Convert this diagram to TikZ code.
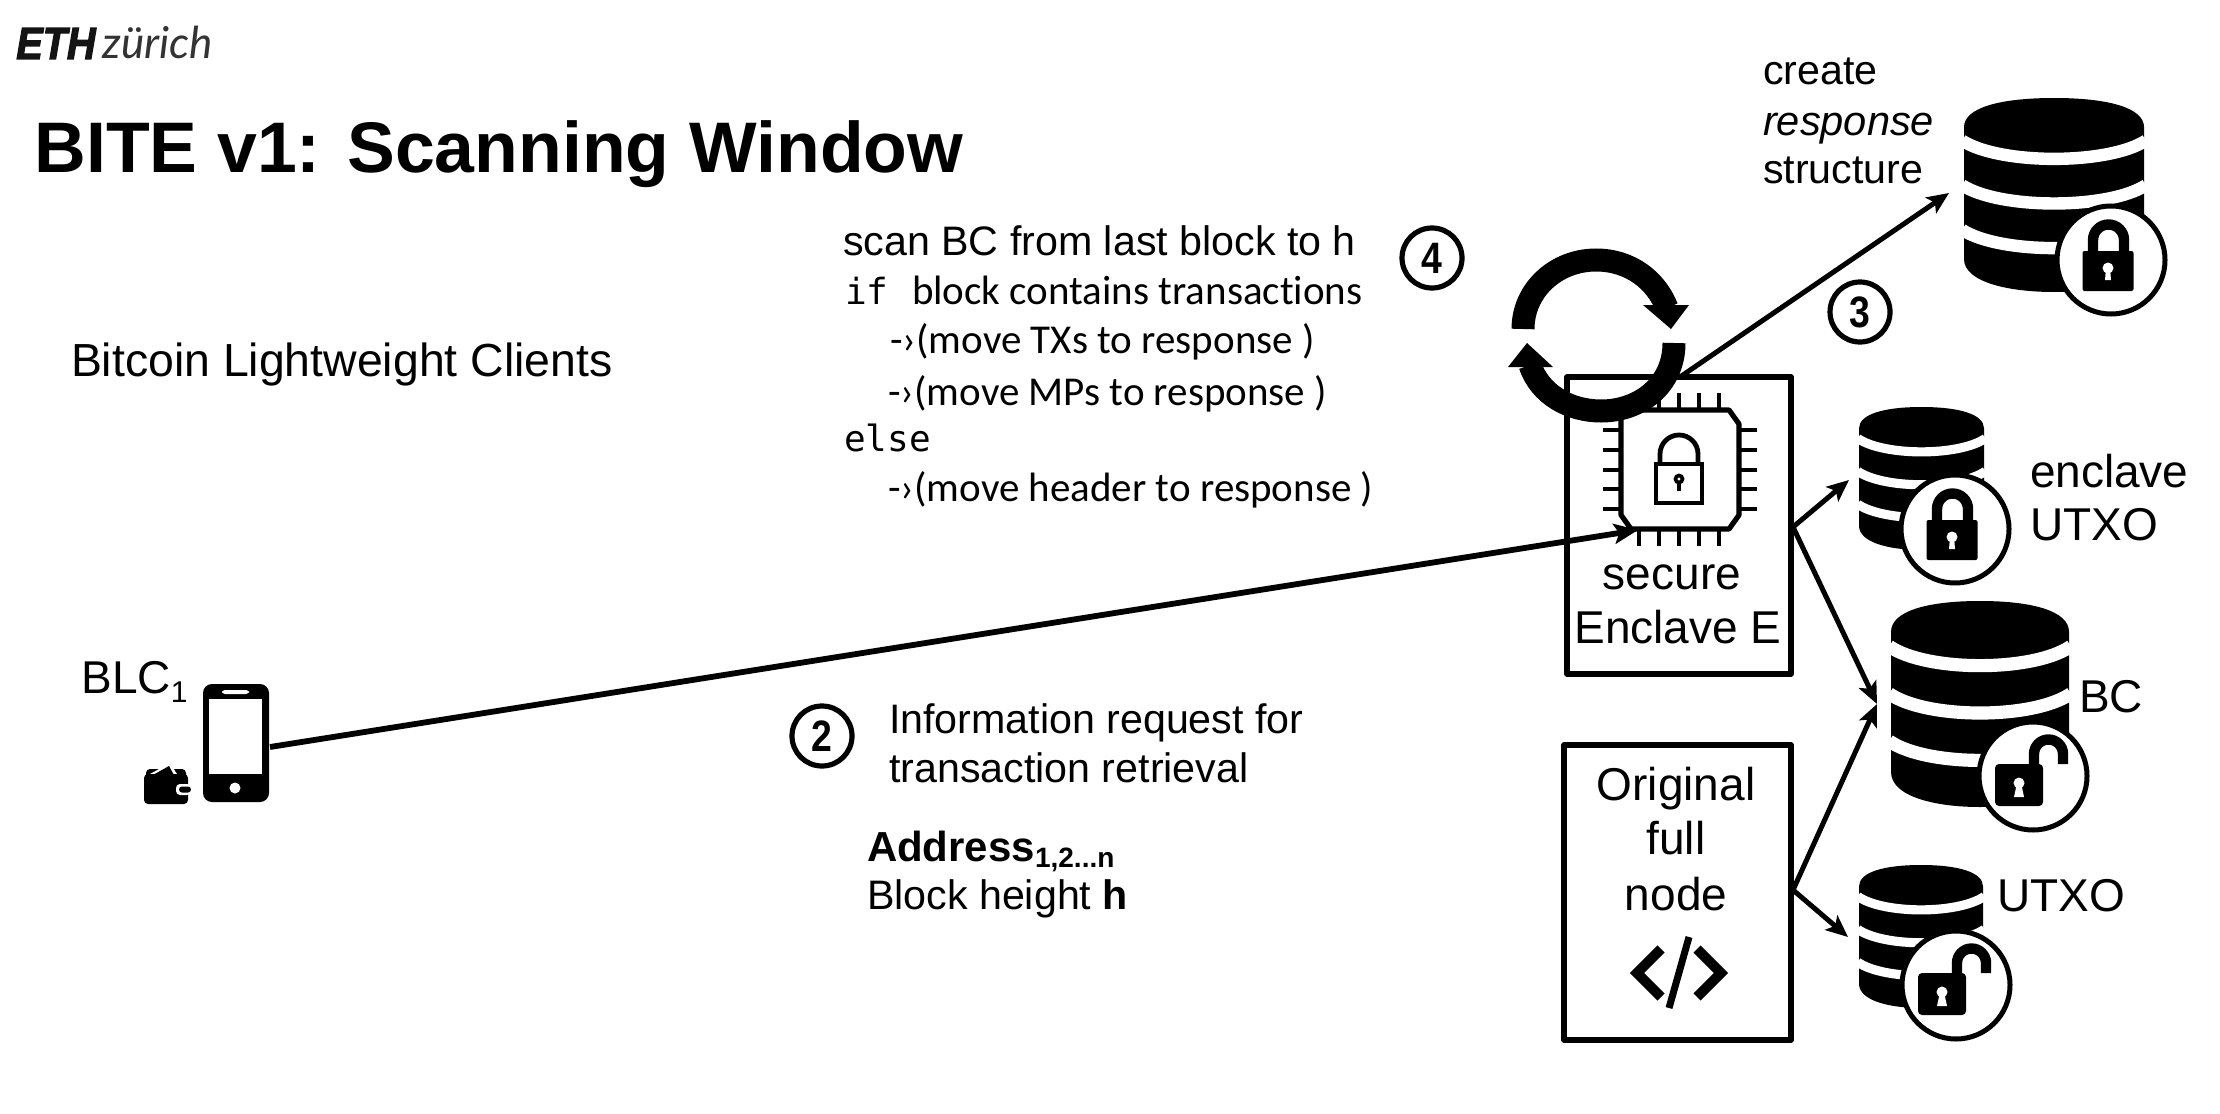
\documentclass[tikz,border=0pt]{standalone}
\usepackage{fontspec}
\setmainfont{Liberation Sans}
\newfontfamily\calib[Ligatures=NoCommon]{Carlito}
\newfontfamily\monof{DejaVu Sans Mono}
\newfontfamily\logof{Lato}
\usetikzlibrary{arrows.meta,calc}
\newcommand{\sz}[1]{\fontsize{#1pt}{#1pt}\selectfont}
\newcommand{\numtxt}[1]{\scalebox{.85}[1]{\bfseries\sz{22}#1}}
\tikzset{
  tw/.style={anchor=base west,inner sep=0pt,outer sep=0pt,font=\sz{20.6}},
  tl/.style={anchor=base west,inner sep=0pt,outer sep=0pt,font=\sz{23}},
  tc/.style={anchor=base,inner sep=0pt,outer sep=0pt,font=\sz{23}},
  num/.style={circle,draw=black,line width=2.6pt,minimum size=30pt,inner sep=0pt,fill=white},
  boxn/.style={draw=black,line width=2.7pt,rectangle,inner sep=0pt,line join=round},
  conn/.style={line width=2.5pt,-{Stealth[length=11pt,width=9.5pt,inset=2.5pt]}},
  longconn/.style={line width=2.9pt,-{Stealth[length=12pt,width=10pt,inset=2.5pt]}},
  badge/.style={fill=white,draw=black,line width=2.5pt},
  pin/.style={line width=2.1pt},
}
% database icon: left, top, width, height (px)
\newcommand{\dbicon}[4]{%
 \begin{scope}[shift={(#1,#2)},xscale=#3,yscale=#4]
  \fill[black] (0,.15) .. controls (0,.05) and (.2,0) .. (.5,0) .. controls (.8,0) and (1,.05) .. (1,.15)
     -- (1,.83) .. controls (1,.95) and (.75,1) .. (.5,1) .. controls (.25,1) and (0,.95) .. (0,.83) -- cycle;
  \pgfmathsetlengthmacro{\bandw}{#4*0.032pt}
  \foreach \yb in {.22,.45,.68}{
   \draw[white,line width=\bandw] (-.01,\yb) .. controls (.2,\yb+.125) and (.8,\yb+.125) .. (1.01,\yb);
  }
 \end{scope}}
% badge with closed lock
\newcommand{\lockclosed}[2]{%
 \begin{scope}[shift={(#1,#2)}]
  \filldraw[badge] (0,0) circle (54);
  \draw[line width=5.2pt] (-18,-8) -- (-18,-20) arc[start angle=180,end angle=360,radius=15.5] -- (13,-8);
  \fill[rounded corners=1pt] (-28.5,-9) rectangle (22.5,31);
  \fill[white] (-3,8) circle (5.5);
  \fill[white] (-5,8) -- (-1,8) -- (0,20) -- (-6,20) -- cycle;
 \end{scope}}
% badge with open lock
\newcommand{\lockopen}[2]{%
 \begin{scope}[shift={(#1,#2)}]
  \filldraw[badge] (0,0) circle (54);
  \draw[line width=5.2pt] (1,-8) -- (1,-22) arc[start angle=180,end angle=360,radius=14.5] -- (30,-12);
  \fill[rounded corners=2pt] (-38,-12) rectangle (10,30);
  \fill[white] (-14,7) circle (5.5);
  \fill[white] (-16,7) -- (-12,7) -- (-9,21) -- (-19,21) -- cycle;
 \end{scope}}
\begin{document}
\begin{tikzpicture}[x=.5pt,y=-.5pt]
\useasboundingbox (0,0) rectangle (2220,1113);
\fill[white] (0,0) rectangle (2220,1113);

% logo
\node[anchor=base west,inner sep=0pt,xscale=.88,text=black!92] (ethmark) at (16,59) {\fontsize{22.5pt}{22.5pt}\fontspec{Liberation Sans}[FakeBold=3]\bfseries\itshape ETH};
\node[anchor=base west,inner sep=0pt,text=black!80] (ethname) at (102,59) {\logof\itshape\sz{22}zürich};

% title
\node[anchor=base west,inner sep=0pt] (title) at (34,172) {\bfseries\sz{35.8}BITE v1: Scanning Window};
\node[tl,font=\sz{23.2}] (blc) at (71,376) {Bitcoin Lightweight Clients};

% scan text
\node[tw] (s1) at (843,255) {scan BC from last block to h};
\node[tw,font=\monof\sz{18}] (s2a) at (845,304) {if};
\node[tw,font=\calib\sz{20.5}] (s2b) at (912,304) {block contains transactions};
\node[tw,font=\calib\sz{20.5}] (s3) at (890,353) {-›(move TXs to response )};
\node[tw,font=\calib\sz{20.5}] (s4) at (888,405) {-›(move MPs to response )};
\node[tw,font=\monof\sz{18}] (s5) at (844,451) {else};
\node[tw,font=\calib\sz{20.5}] (s6) at (888,501) {-›(move header to response )};

% response label
\node[tw] (c1) at (1763,85) {create};
\node[tw,font=\itshape\sz{20.8}] (c2) at (1763,135) {response};
\node[tw] (c3) at (1763,184) {structure};

% databases
\dbicon{1964}{98}{180}{194}
\lockclosed{2111}{260}
\dbicon{1859}{407}{125}{143}
\lockclosed{1955}{529}
\dbicon{1891}{601}{178}{206}
\lockopen{2033}{776}
\dbicon{1859}{865}{124}{143}
\lockopen{1956}{985}

\node[tl] (l1) at (2030,487) {enclave};
\node[tl] (l2) at (2030,540) {UTXO};
\node[tl] (l3) at (2079,712) {BC};
\node[tl] (l4) at (1997,911) {UTXO};

% boxes
\node[boxn,minimum width=112pt,minimum height=148.5pt] (enclave) at (1679,525.5) {};
\node[boxn,minimum width=113.5pt,minimum height=147.5pt] (fullnode) at (1677.5,892.5) {};
\node[tc] (e1) at (1672,589) {secure};
\node[tc] (e2) at (1678,643) {Enclave E};
\node[tc] (f1) at (1676,800) {Original};
\node[tc] (f2) at (1676,854) {full};
\node[tc] (f3) at (1676,910) {node};

% code icon
\draw[line width=5pt,miter limit=10] (1661,949) -- (1637,973) -- (1661,997);
\draw[line width=5pt,miter limit=10] (1697,949) -- (1721,973) -- (1697,997);
\draw[line width=3.5pt] (1689,937) -- (1669,1008);

% chip
\foreach \xp in {1639,1659,1679,1699,1719}{
  \draw[pin] (\xp,393) -- (\xp,410);
  \draw[pin] (\xp,529) -- (\xp,546);
}
\foreach \yp in {430,450,470,489,509}{
  \draw[pin] (1603,\yp) -- (1621,\yp);
  \draw[pin] (1739,\yp) -- (1757,\yp);
}
\draw[fill=white,line width=2.6pt,line join=round] (1621,410) -- (1729,410) -- (1739,424) -- (1739,515) -- (1729,529) -- (1631,529) -- (1621,515) -- cycle;
\draw[line width=2.4pt] (1660,464) -- (1660,454) arc[start angle=180,end angle=360,radius=19] -- (1698,464);
\draw[line width=2.4pt] (1656,464) rectangle (1702,503);
\fill (1679,479) circle (5.5);
\draw[line width=1.8pt] (1679,479) -- (1679,491);
\fill[white] (1679,479) circle (1.6);

% connectors
\coordinate (enout) at (1793,527);
\coordinate (fnout) at (1793,890);
\coordinate (enchip) at (1638,530);
\coordinate (resp) at (1949,193);
\coordinate (etop) at (1680,377);
\coordinate (dbE) at (1849,480);
\coordinate (dbB) at (1877,704);
\coordinate (dbU) at (1848,937);
\coordinate (phoneout) at (270,747);
\draw[longconn] (phoneout) -- (enchip);
\draw[conn] (etop) -- (resp);
\draw[conn] (enout) -- (dbE);
\draw[conn] (enout) -- (dbB);
\draw[conn] (fnout) -- (dbB);
\draw[conn] (fnout) -- (dbU);

% cycle arrows
\draw[line width=11.5pt] (1523,329) .. controls (1523,290) and (1556,260) .. (1596,260) .. controls (1630,260) and (1656,280) .. (1667,308);
\fill (1643,305) -- (1689,305) -- (1671,329) -- cycle;
\draw[line width=11.5pt] (1674,343) .. controls (1674,385) and (1640,411) .. (1601,411) .. controls (1570,411) and (1540,395) .. (1530,365);
\fill (1508,367) -- (1553,367) -- (1527,343) -- cycle;

% step numbers
\node[num] (n4) at (1432,258) {\numtxt{4}};
\node[num] (n3) at (1860,312) {\numtxt{3}};
\node[num] (n2) at (822,736) {\numtxt{2}};

% request text
\node[tw] (r1) at (889,733) {Information request for};
\node[tw] (r2) at (889,782) {transaction retrieval};
\node[tw] (r3) at (867,861) {\bfseries\sz{21}Address\raisebox{-3pt}{\sz{14}1,2...n}};
\node[tw] (r4) at (867,909) {Block height {\bfseries h}};

% phone and wallet
\node[anchor=base west,inner sep=0pt,font=\sz{23}] (blc1) at (81,693) {BLC\raisebox{-4.5pt}{\sz{15}1}};
\fill[rounded corners=4.5pt] (203,684) rectangle (269,802);
\fill[white] (209,699) rectangle (262,774);
\fill[white,rounded corners=1.5pt] (222,690) rectangle (249,694);
\fill[white] (235,788) circle (5.5);
\fill[rounded corners=2pt] (146,769) rectangle (186,790);
\fill[white] (150,774) -- (170,763) -- (177,774) -- cycle;
\fill (153,775) -- (169,766) -- (174,775) -- cycle;
\fill[rounded corners=2pt] (144,774) rectangle (188,804);
\fill[white,rounded corners=2pt] (176,784) rectangle (191,795);
\fill[rounded corners=1.5pt] (179,786.5) rectangle (191,792.5);
\end{tikzpicture}
\end{document}
